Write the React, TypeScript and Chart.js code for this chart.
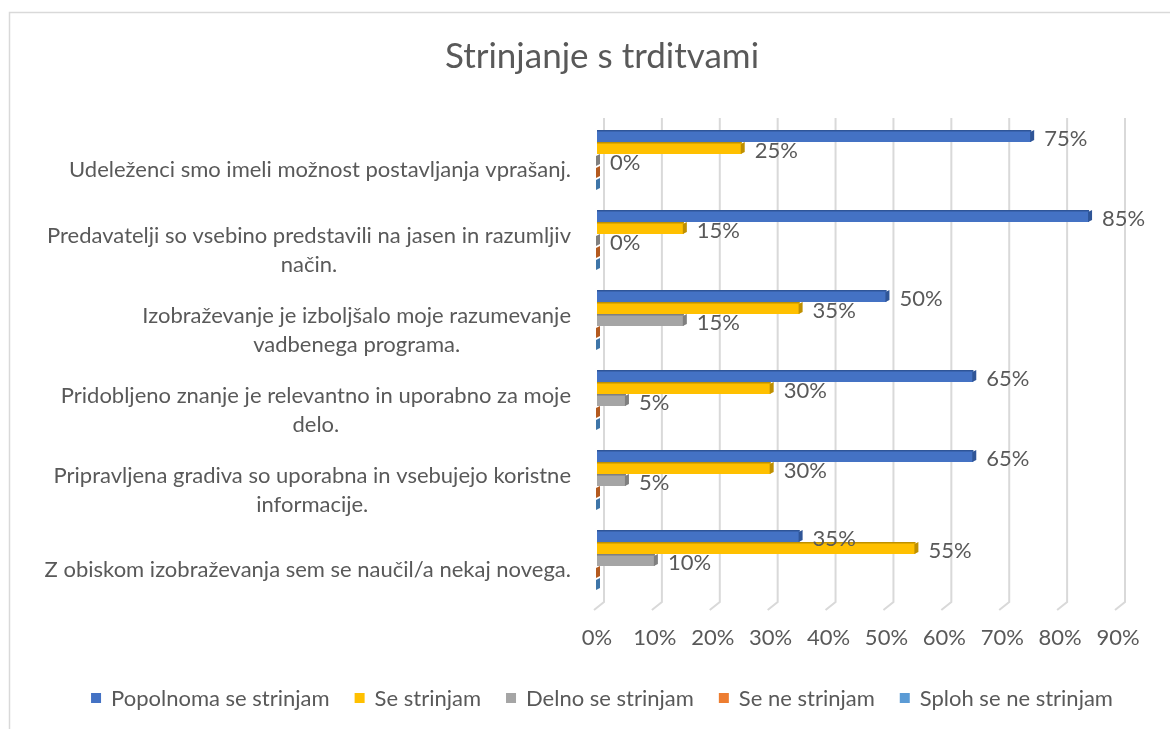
import React, { useEffect, useRef } from "react";
import { Chart, registerables } from "chart.js";
Chart.register(...registerables);

const categories: string[][] = [
  ["Udeleženci smo imeli možnost postavljanja vprašanj."],
  ["Predavatelji so vsebino predstavili na jasen in razumljiv", "način."],
  ["Izobraževanje je izboljšalo moje razumevanje", "vadbenega programa."],
  ["Pridobljeno znanje je relevantno in uporabno za moje", "delo."],
  ["Pripravljena gradiva so uporabna in vsebujejo koristne", "informacije."],
  ["Z obiskom izobraževanja sem se naučil/a nekaj novega."],
];
const seriesNames = [
  "Popolnoma se strinjam",
  "Se strinjam",
  "Delno se strinjam",
  "Se ne strinjam",
  "Sploh se ne strinjam",
];
const popolnoma = [75, 85, 50, 65, 65, 35];
const seStrinjam = [25, 15, 35, 30, 30, 55];
const delno = [0, 0, 15, 5, 5, 10];
const seNe = [0, 0, 0, 0, 0, 0];
const sploh = [0, 0, 0, 0, 0, 0];
const showLabels = [true, true, true, false, false];
const xMin = 0;
const xMax = 90;
const xStep = 10;

const colors = ["#4472C4", "#FFC000", "#A5A5A5", "#ED7D31", "#5B9BD5"];
const darkColors = ["#2F5597", "#BF9000", "#7F7F7F", "#B35A1F", "#3E75A8"];
const FONT = "Lato";
const TEXT = "#595959";

export default function App() {
  const ref = useRef<HTMLCanvasElement>(null);
  useEffect(() => {
    const canvas = ref.current!;
    const values = [popolnoma, seStrinjam, delno, seNe, sploh];

    const deco = {
      id: "deco",
      beforeDraw(chart: any) {
        const ctx = chart.ctx;
        ctx.save();
        ctx.strokeStyle = "#D9D9D9";
        ctx.lineWidth = 1.5;
        ctx.strokeRect(9.5, 12.5, 1300, 900);
        ctx.restore();
      },
      beforeDatasetsDraw(chart: any) {
        const ctx = chart.ctx;
        const x = chart.scales.x;
        const area = chart.chartArea;
        ctx.save();
        ctx.strokeStyle = "#D9D9D9";
        ctx.lineWidth = 2;
        for (let v = xMin; v <= xMax; v += xStep) {
          const px = x.getPixelForValue(v) + 7;
          ctx.beginPath();
          ctx.moveTo(px, area.top - 2);
          ctx.lineTo(px, area.bottom + 2);
          ctx.lineTo(px - 10, area.bottom + 10);
          ctx.stroke();
        }
        ctx.restore();
      },
      afterDatasetsDraw(chart: any) {
        const ctx = chart.ctx;
        ctx.save();
        chart.data.datasets.forEach((ds: any, di: number) => {
          const meta = chart.getDatasetMeta(di);
          meta.data.forEach((bar: any) => {
            const { x, y, height } = bar.getProps(["x", "y", "height"], true);
            const top = y - height / 2;
            const bottom = y + height / 2;
            const base = chart.scales.x.getPixelForValue(0);
            ctx.fillStyle = darkColors[di];
            ctx.fillRect(base, top, Math.max(0, x - base), 1.5);
            ctx.beginPath();
            ctx.moveTo(x - 1, top + 2);
            ctx.lineTo(x + 3, top);
            ctx.lineTo(x + 3, bottom - 2);
            ctx.lineTo(x - 1, bottom);
            ctx.closePath();
            ctx.fill();
          });
        });
        ctx.font = `22px ${FONT}`;
        ctx.fillStyle = TEXT;
        ctx.textAlign = "left";
        ctx.textBaseline = "middle";
        chart.data.datasets.forEach((ds: any, di: number) => {
          if (!showLabels[di]) return;
          const meta = chart.getDatasetMeta(di);
          meta.data.forEach((bar: any, i: number) => {
            const { x, y } = bar.getProps(["x", "y"], true);
            ctx.fillText(`${ds.data[i]}%`, x + 13, y + 3);
          });
        });
        const yScale = chart.scales.y;
        const right = chart.chartArea.left - 26;
        ctx.textAlign = "center";
        categories.forEach((lines, i) => {
          const cy = yScale.getPixelForValue(i) + 10;
          const w = Math.max(...lines.map((l) => ctx.measureText(l).width));
          const cx = right - w / 2;
          const lh = 29;
          lines.forEach((l, li) => {
            ctx.fillText(l, cx, cy + (li - (lines.length - 1) / 2) * lh);
          });
        });
        // legend
        const gap = 25;
        const box = 10;
        const textGap = 10;
        const widths = seriesNames.map((n) => box + textGap + ctx.measureText(n).width);
        const total = widths.reduce((a, b) => a + b, 0) + gap * (widths.length - 1);
        let lx = 602 - total / 2;
        const ly = 698;
        ctx.textAlign = "left";
        seriesNames.forEach((n, i) => {
          ctx.fillStyle = colors[i];
          ctx.fillRect(lx, ly - box / 2, box, box);
          ctx.fillStyle = TEXT;
          ctx.fillText(n, lx + box + textGap, ly + 1);
          lx += widths[i] + gap;
        });
        ctx.restore();
      },
    };

    const chart = new Chart(canvas, {
      type: "bar",
      data: {
        labels: categories.map((c) => c.join(" ")),
        datasets: values.map((v, i) => ({
          label: seriesNames[i],
          data: v,
          backgroundColor: colors[i],
          borderWidth: 0,
          categoryPercentage: 0.75,
          barPercentage: 1,
        })),
      },
      options: {
        indexAxis: "y",
        animation: false,
        responsive: false,
        devicePixelRatio: 1,
        layout: { padding: { left: 86, right: 52, top: 0, bottom: 71 } },
        scales: {
          x: {
            min: xMin,
            max: xMax,
            grid: { display: false },
            border: { display: false },
            ticks: {
              stepSize: xStep,
              padding: 17,
              color: TEXT,
              font: { family: FONT, size: 22 },
              callback: (v: any) => `${v}%`,
            },
            afterFit: (s: any) => {
              s.height = 58;
            },
          },
          y: {
            grid: { display: false },
            border: { display: false },
            ticks: { display: false },
            afterFit: (s: any) => {
              s.width = 511;
            },
          },
        },
        plugins: {
          tooltip: { enabled: false },
          title: {
            display: true,
            text: "Strinjanje s trditvami",
            color: TEXT,
            font: { family: FONT, size: 35, weight: "normal" },
            padding: { top: 36, bottom: 42 },
          },
          legend: { display: false },
        },
      },
      plugins: [deco],
    });
    return () => chart.destroy();
  }, []);
  return (
    <div style={{ position: "fixed", left: 0, top: 0, width: 1170, height: 729 }}>
      <canvas ref={ref} width={1170} height={729} style={{ display: "block" }} />
    </div>
  );
}
